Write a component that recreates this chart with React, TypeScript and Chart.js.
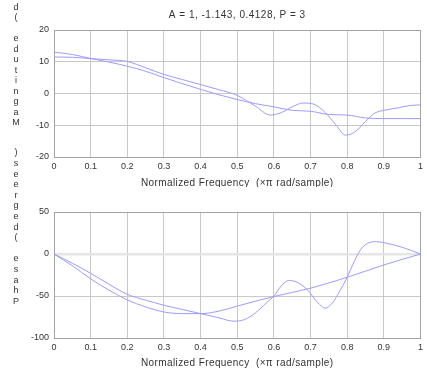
import { useEffect, useRef } from "react";
import { Chart, registerables } from "chart.js";

Chart.register(...registerables);

// Frequency response of the filter and its model (normalized frequency, x pi rad/sample)
const titleText = "A = 1, -1.143, 0.4128, P = 3";
const xTitle = "Normalized Frequency  (\u00d7\u03c0 rad/sample)";
const magLabel = "Magnitude (dB)";
const phaseLabel = "Phase (degrees)";

const freqTicks = [0, 0.1, 0.2, 0.3, 0.4, 0.5, 0.6, 0.7, 0.8, 0.9, 1];
const freqTickLabels = ["0", "0.1", "0.2", "0.3", "0.4", "0.5", "0.6", "0.7", "0.8", "0.9", "1"];
const magTicks = [-20, -10, 0, 10, 20];
const phaseTicks = [-100, -50, 0, 50];

// smooth response
const freqSmooth = [0, 0.05, 0.1, 0.15, 0.2, 0.25, 0.3, 0.35, 0.4, 0.45, 0.5, 0.55, 0.6, 0.65, 0.7, 0.75, 0.8, 0.85, 0.9, 0.95, 1];
const magSmooth = [13, 12.3, 11.0, 9.9, 8.6, 7.0, 5.0, 3.1, 1.3, -0.4, -1.9, -3.2, -4.2, -5.3, -5.6, -6.6, -6.8, -7.7, -7.9, -7.9, -7.9];
const phaseFreqSmooth = [0, 0.05, 0.1, 0.15, 0.2, 0.25, 0.3, 0.35, 0.4, 0.45, 0.5, 0.6, 0.7, 0.8, 0.9, 1];
const phaseSmooth = [0, -14, -29.6, -43, -54.6, -63, -69, -71, -71, -68, -62, -50.6, -40.7, -27.7, -13, 0];

// rippled response
const freqRipple = [0, 0.05, 0.1, 0.15, 0.2, 0.25, 0.3, 0.35, 0.4, 0.45, 0.5, 0.55, 0.59, 0.62, 0.65, 0.68, 0.71, 0.74, 0.77, 0.795, 0.82, 0.85, 0.875, 0.9, 0.94, 0.97, 1];
const magRipple = [11.5, 11.4, 11.0, 10.6, 10.1, 8.1, 6.0, 4.4, 2.8, 1.2, -0.6, -4.0, -6.8, -6.0, -4.2, -3.0, -3.4, -6.0, -10.0, -13.1, -12.2, -8.8, -6.2, -5.3, -4.5, -3.8, -3.6];
const phaseFreqRipple = [0, 0.05, 0.1, 0.15, 0.2, 0.25, 0.3, 0.35, 0.4, 0.45, 0.49, 0.52, 0.55, 0.58, 0.6, 0.62, 0.64, 0.66, 0.69, 0.72, 0.74, 0.76, 0.78, 0.8, 0.82, 0.84, 0.86, 0.88, 0.9, 0.95, 1];
const phaseRipple = [0, -11, -23, -36, -48, -55, -61, -66, -71, -76, -80, -78, -70, -58, -50, -38, -31.6, -33, -42, -58, -64.5, -58, -44, -27.7, -8, 7, 13.5, 14.6, 13.5, 8, 0];

const lineColor = "#9c9cff";
const gridColor = "#c8c8c8";
const boxColor = "#a4a4a4";
const textColor = "#333333";
const fontFamily = '"Liberation Sans", Arial, sans-serif';

const W = 427;
const H = 187;

function pts(xs: number[], ys: number[]) {
  return xs.map((x, i) => ({ x, y: ys[i] }));
}

function drawVertical(ctx: CanvasRenderingContext2D, text: string, x: number, yTop: number, step: number) {
  const chars = text.split("").reverse();
  chars.forEach((c, i) => {
    if (c !== " ") ctx.fillText(c, x, yTop + i * step);
  });
}

function makeDecor(offsetY: number, showTitle: boolean, xTitleY: number) {
  return {
    id: "decor",
    afterDraw(chart: any) {
      const { ctx, chartArea: a } = chart;
      ctx.save();
      ctx.strokeStyle = boxColor;
      ctx.lineWidth = 1;
      ctx.strokeRect(Math.round(a.left) + 0.5, Math.round(a.top) + 0.5, Math.round(a.right - a.left), Math.round(a.bottom - a.top));
      ctx.fillStyle = textColor;
      ctx.textAlign = "center";
      ctx.textBaseline = "middle";
      const cx = (a.left + a.right) / 2;
      ctx.font = `10px ${fontFamily}`;
      (ctx as any).letterSpacing = "0.5px";
      if (showTitle) ctx.fillText(titleText, cx, 15);
      (ctx as any).letterSpacing = "0.4px";
      ctx.fillText(xTitle, cx, xTitleY);
      (ctx as any).letterSpacing = "0px";
      ctx.font = `9px ${fontFamily}`;
      drawVertical(ctx, magLabel, 16, -13.5 - offsetY, 10.5);
      drawVertical(ctx, phaseLabel, 16, 153 - offsetY, 10.6);
      ctx.restore();
    },
  };
}

function makeChart(
  canvas: HTMLCanvasElement,
  series: { x: number; y: number }[][],
  yTicks: number[],
  padTop: number,
  xHeight: number,
  offsetY: number,
  showTitle: boolean,
  xTitleY: number,
  wideZero: boolean
) {
  return new Chart(canvas, {
    type: "line",
    data: {
      datasets: series.map((d) => ({
        data: d,
        borderColor: lineColor,
        borderWidth: 1,
        pointRadius: 0,
        fill: false,
        cubicInterpolationMode: "monotone" as const,
      })),
    },
    options: {
      responsive: false,
      animation: false,
      devicePixelRatio: 1,
      layout: { padding: { top: padTop, right: 3, left: 0, bottom: 0 } },
      plugins: { legend: { display: false }, tooltip: { enabled: false }, title: { display: false } },
      scales: {
        x: {
          type: "linear",
          min: 0,
          max: 1,
          afterBuildTicks: (s: any) => {
            s.ticks = freqTicks.map((v) => ({ value: v }));
          },
          afterFit: (s: any) => {
            s.height = xHeight;
          },
          ticks: {
            autoSkip: false,
            maxRotation: 0,
            padding: 4,
            color: textColor,
            font: { size: 9, family: fontFamily },
            callback: (_v: any, i: number) => freqTickLabels[i],
          },
          grid: { color: gridColor, drawTicks: false, lineWidth: 1 },
          border: { display: false },
        },
        y: {
          type: "linear",
          min: yTicks[0],
          max: yTicks[yTicks.length - 1],
          afterBuildTicks: (s: any) => {
            s.ticks = yTicks.map((v) => ({ value: v }));
          },
          afterFit: (s: any) => {
            s.width = 54;
          },
          ticks: {
            padding: 5,
            color: textColor,
            font: { size: 9, family: fontFamily },
            callback: (v: any) => String(v),
          },
          grid: {
            drawTicks: false,
            color: (c: any) => (wideZero && c.tick && c.tick.value === 0 ? "#e6e6e6" : gridColor),
            lineWidth: (c: any) => (wideZero && c.tick && c.tick.value === 0 ? 2.5 : 1),
          },
          border: { display: false },
        },
      },
    },
    plugins: [makeDecor(offsetY, showTitle, xTitleY)],
  });
}

export default function App() {
  const topRef = useRef<HTMLCanvasElement>(null);
  const botRef = useRef<HTMLCanvasElement>(null);

  useEffect(() => {
    if (!topRef.current || !botRef.current) return;
    const top = makeChart(
      topRef.current,
      [pts(freqSmooth, magSmooth), pts(freqRipple, magRipple)],
      magTicks,
      30,
      30,
      0,
      true,
      183,
      false
    );
    const bot = makeChart(
      botRef.current,
      [pts(phaseFreqSmooth, phaseSmooth), pts(phaseFreqRipple, phaseRipple)],
      phaseTicks,
      25,
      36,
      H,
      false,
      176,
      true
    );
    return () => {
      top.destroy();
      bot.destroy();
    };
  }, []);

  return (
    <div style={{ position: "absolute", left: 0, top: 0, width: W, height: 2 * H, background: "#fff" }}>
      <canvas ref={topRef} width={W} height={H} style={{ display: "block", width: W, height: H }} />
      <canvas ref={botRef} width={W} height={H} style={{ display: "block", width: W, height: H }} />
    </div>
  );
}
